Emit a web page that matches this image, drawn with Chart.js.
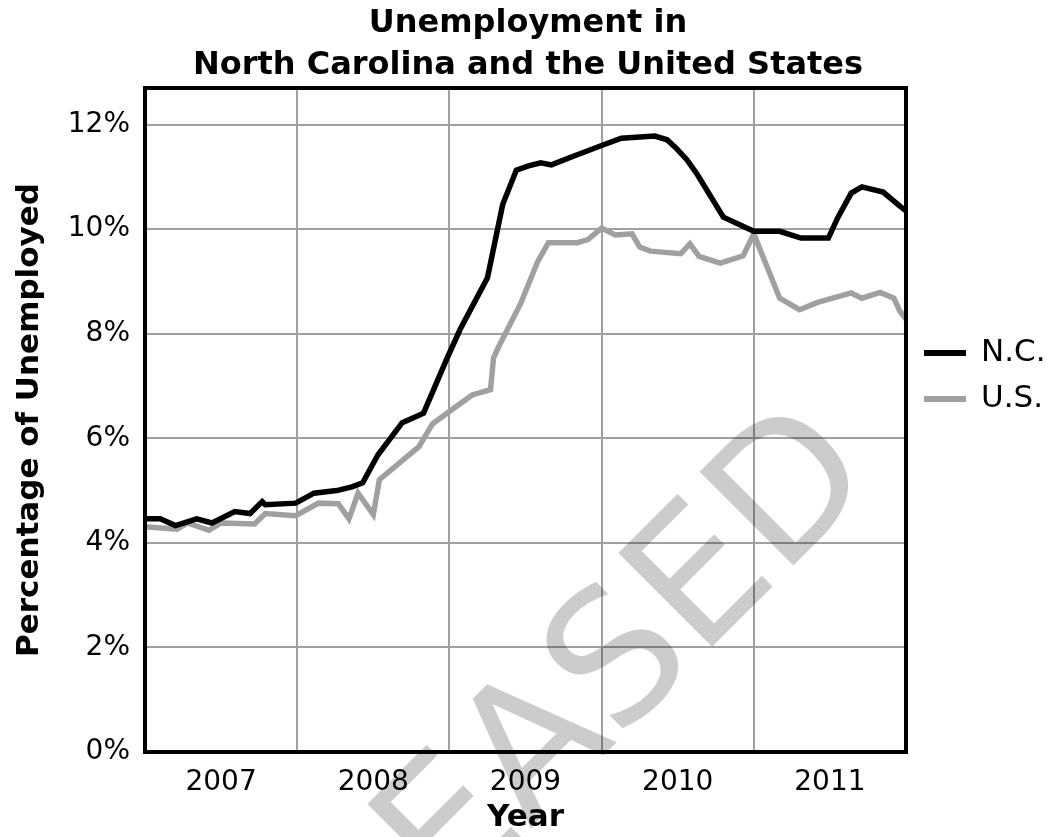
<!DOCTYPE html>
<html>
<head>
<meta charset="utf-8">
<title>Unemployment in North Carolina and the United States</title>
<script src="https://cdn.jsdelivr.net/npm/chart.js@4"></script>
<style>
  html, body { margin: 0; padding: 0; background: #fff; }
  #wrap { width: 1056px; height: 837px; }
</style>
</head>
<body>
<div id="wrap"><canvas id="unempChart" width="1056" height="837"></canvas></div>
<script>
// N.C. monthly rate (x = decimal year)
const ncYears = [2007.00, 2007.10, 2007.20, 2007.34, 2007.44, 2007.59, 2007.69, 2007.77, 2007.79, 2007.99,
                 2008.11, 2008.26, 2008.36, 2008.43, 2008.53, 2008.69, 2008.83, 2008.98, 2009.07, 2009.25,
                 2009.35, 2009.44, 2009.52, 2009.60, 2009.67, 2009.81, 2010.00, 2010.13, 2010.35, 2010.43,
                 2010.49, 2010.56, 2010.63, 2010.80, 2011.00, 2011.17, 2011.31, 2011.49, 2011.55, 2011.64,
                 2011.71, 2011.85, 2011.96, 2012.00];
const ncRates = [4.46, 4.46, 4.33, 4.46, 4.38, 4.60, 4.56, 4.79, 4.73, 4.76,
                 4.95, 5.00, 5.07, 5.15, 5.68, 6.30, 6.48, 7.50, 8.08, 9.07,
                 10.47, 11.13, 11.21, 11.27, 11.23, 11.39, 11.60, 11.74, 11.78, 11.71,
                 11.55, 11.33, 11.04, 10.23, 9.96, 9.96, 9.83, 9.83, 10.21, 10.69,
                 10.81, 10.71, 10.44, 10.35];

// U.S. monthly rate
const usYears = [2007.00, 2007.21, 2007.28, 2007.42, 2007.50, 2007.72, 2007.79, 2007.99, 2008.14, 2008.27,
                 2008.34, 2008.40, 2008.50, 2008.54, 2008.80, 2008.89, 2009.07, 2009.15, 2009.27, 2009.29,
                 2009.32, 2009.47, 2009.58, 2009.65, 2009.84, 2009.91, 2010.00, 2010.09, 2010.20, 2010.25,
                 2010.32, 2010.52, 2010.58, 2010.64, 2010.78, 2010.93, 2011.00, 2011.17, 2011.30, 2011.42,
                 2011.64, 2011.71, 2011.83, 2011.92, 2011.96, 2012.00];
const usRates = [4.31, 4.26, 4.38, 4.24, 4.38, 4.36, 4.56, 4.52, 4.76, 4.75,
                 4.46, 4.95, 4.54, 5.21, 5.84, 6.28, 6.66, 6.83, 6.93, 7.54,
                 7.73, 8.59, 9.38, 9.74, 9.74, 9.80, 10.02, 9.89, 9.91, 9.66,
                 9.58, 9.53, 9.72, 9.48, 9.35, 9.49, 9.91, 8.68, 8.46, 8.60,
                 8.78, 8.68, 8.79, 8.68, 8.43, 8.28];

const yearLabels = [2007, 2008, 2009, 2010, 2011];
const yTicks = [0, 2, 4, 6, 8, 10, 12];

const FONT = '"DejaVu Sans", Verdana, sans-serif';
const GRID = '#a0a0a0';

function toPoints(xs, ys) {
    return xs.map((x, i) => ({ x: x, y: ys[i] }));
}

// black frame round the plot area
const framePlugin = {
    id: 'frame',
    afterDatasetsDraw(chart) {
        const a = chart.chartArea;
        const ctx = chart.ctx;
        ctx.save();
        ctx.strokeStyle = '#000';
        ctx.lineWidth = 4;
        ctx.strokeRect(a.left, a.top, a.right - a.left, a.bottom - a.top);
        ctx.restore();
    }
};

// legend to the right of the plot, line swatch + label
const sideLegend = {
    id: 'sideLegend',
    afterDraw(chart) {
        const ctx = chart.ctx;
        const a = chart.chartArea;
        ctx.save();
        ctx.font = '31px ' + FONT;
        ctx.textBaseline = 'middle';
        ctx.textAlign = 'left';
        chart.data.datasets.forEach((ds, i) => {
            const y = a.top + 265 + i * 46;
            ctx.fillStyle = ds.borderColor;
            ctx.fillRect(a.right + 18, y - 3, 42, 6);
            ctx.fillStyle = '#000';
            ctx.fillText(ds.label, a.right + 75, y);
        });
        ctx.restore();
    }
};

// "RELEASED" stamp across the page
const stampPlugin = {
    id: 'stamp',
    afterDraw(chart) {
        const ctx = chart.ctx;
        ctx.save();
        ctx.translate(206, 1153);
        ctx.rotate(-Math.PI / 4);
        ctx.font = '182px ' + FONT;
        ctx.fillStyle = 'rgba(0,0,0,0.2)';
        ctx.textAlign = 'left';
        ctx.textBaseline = 'alphabetic';
        ctx.fillText('RELEASED', 0, 0);
        ctx.restore();
    }
};

new Chart(document.getElementById('unempChart'), {
    type: 'line',
    data: {
        datasets: [{
            label: 'N.C.',
            data: toPoints(ncYears, ncRates),
            borderColor: '#000000',
            borderWidth: 5.5,
            pointRadius: 0,
            tension: 0,
            fill: false
        }, {
            label: 'U.S.',
            data: toPoints(usYears, usRates),
            borderColor: '#a0a0a0',
            borderWidth: 5.5,
            pointRadius: 0,
            tension: 0,
            fill: false
        }]
    },
    options: {
        responsive: false,
        animation: false,
        events: [],
        layout: { padding: 0, autoPadding: false },
        plugins: {
            legend: { display: false },
            tooltip: { enabled: false },
            title: {
                display: true,
                text: ['Unemployment in', 'North Carolina and the United States'],
                color: '#000',
                font: { family: FONT, size: 32, weight: 'bold', lineHeight: 1.3 },
                padding: { top: 3, bottom: 1.8 }
            }
        },
        scales: {
            x: {
                type: 'linear',
                min: 2007,
                max: 2012,
                afterBuildTicks: s => {
                    const t = [];
                    yearLabels.forEach(yr => { t.push({ value: yr }); t.push({ value: yr + 0.5 }); });
                    t.push({ value: 2012 });
                    s.ticks = t;
                },
                afterFit: s => { s.height = 85; },
                ticks: {
                    autoSkip: false,
                    maxRotation: 0,
                    padding: 14,
                    color: '#000',
                    font: { family: FONT, size: 28 },
                    callback: v => (v % 1 !== 0 ? String(Math.floor(v)) : '')
                },
                grid: {
                    color: c => (c.tick && c.tick.value % 1 === 0 ? GRID : 'rgba(0,0,0,0)'),
                    lineWidth: 2,
                    drawTicks: false
                },
                border: { display: false },
                title: {
                    display: true,
                    text: 'Year',
                    color: '#000',
                    font: { family: FONT, size: 31, weight: 'bold' },
                    padding: { top: 0, bottom: 0 }
                }
            },
            y: {
                min: 0,
                max: 12.7,
                afterBuildTicks: s => { s.ticks = yTicks.map(v => ({ value: v })); },
                afterFit: s => { s.width = 145; },
                ticks: {
                    padding: 15,
                    color: '#000',
                    font: { family: FONT, size: 28 },
                    callback: v => v + '%'
                },
                grid: { color: GRID, lineWidth: 2, drawTicks: false },
                border: { display: false },
                title: {
                    display: true,
                    text: 'Percentage of Unemployed',
                    color: '#000',
                    font: { family: FONT, size: 31, weight: 'bold' },
                    padding: { top: 11, bottom: 0 }
                }
            },
            // empty right-hand strip that holds the legend
            yLegend: {
                position: 'right',
                afterFit: s => { s.width = 150; },
                ticks: { display: false },
                grid: { display: false },
                border: { display: false }
            }
        }
    },
    plugins: [framePlugin, sideLegend, stampPlugin]
});
</script>
</body>
</html>
